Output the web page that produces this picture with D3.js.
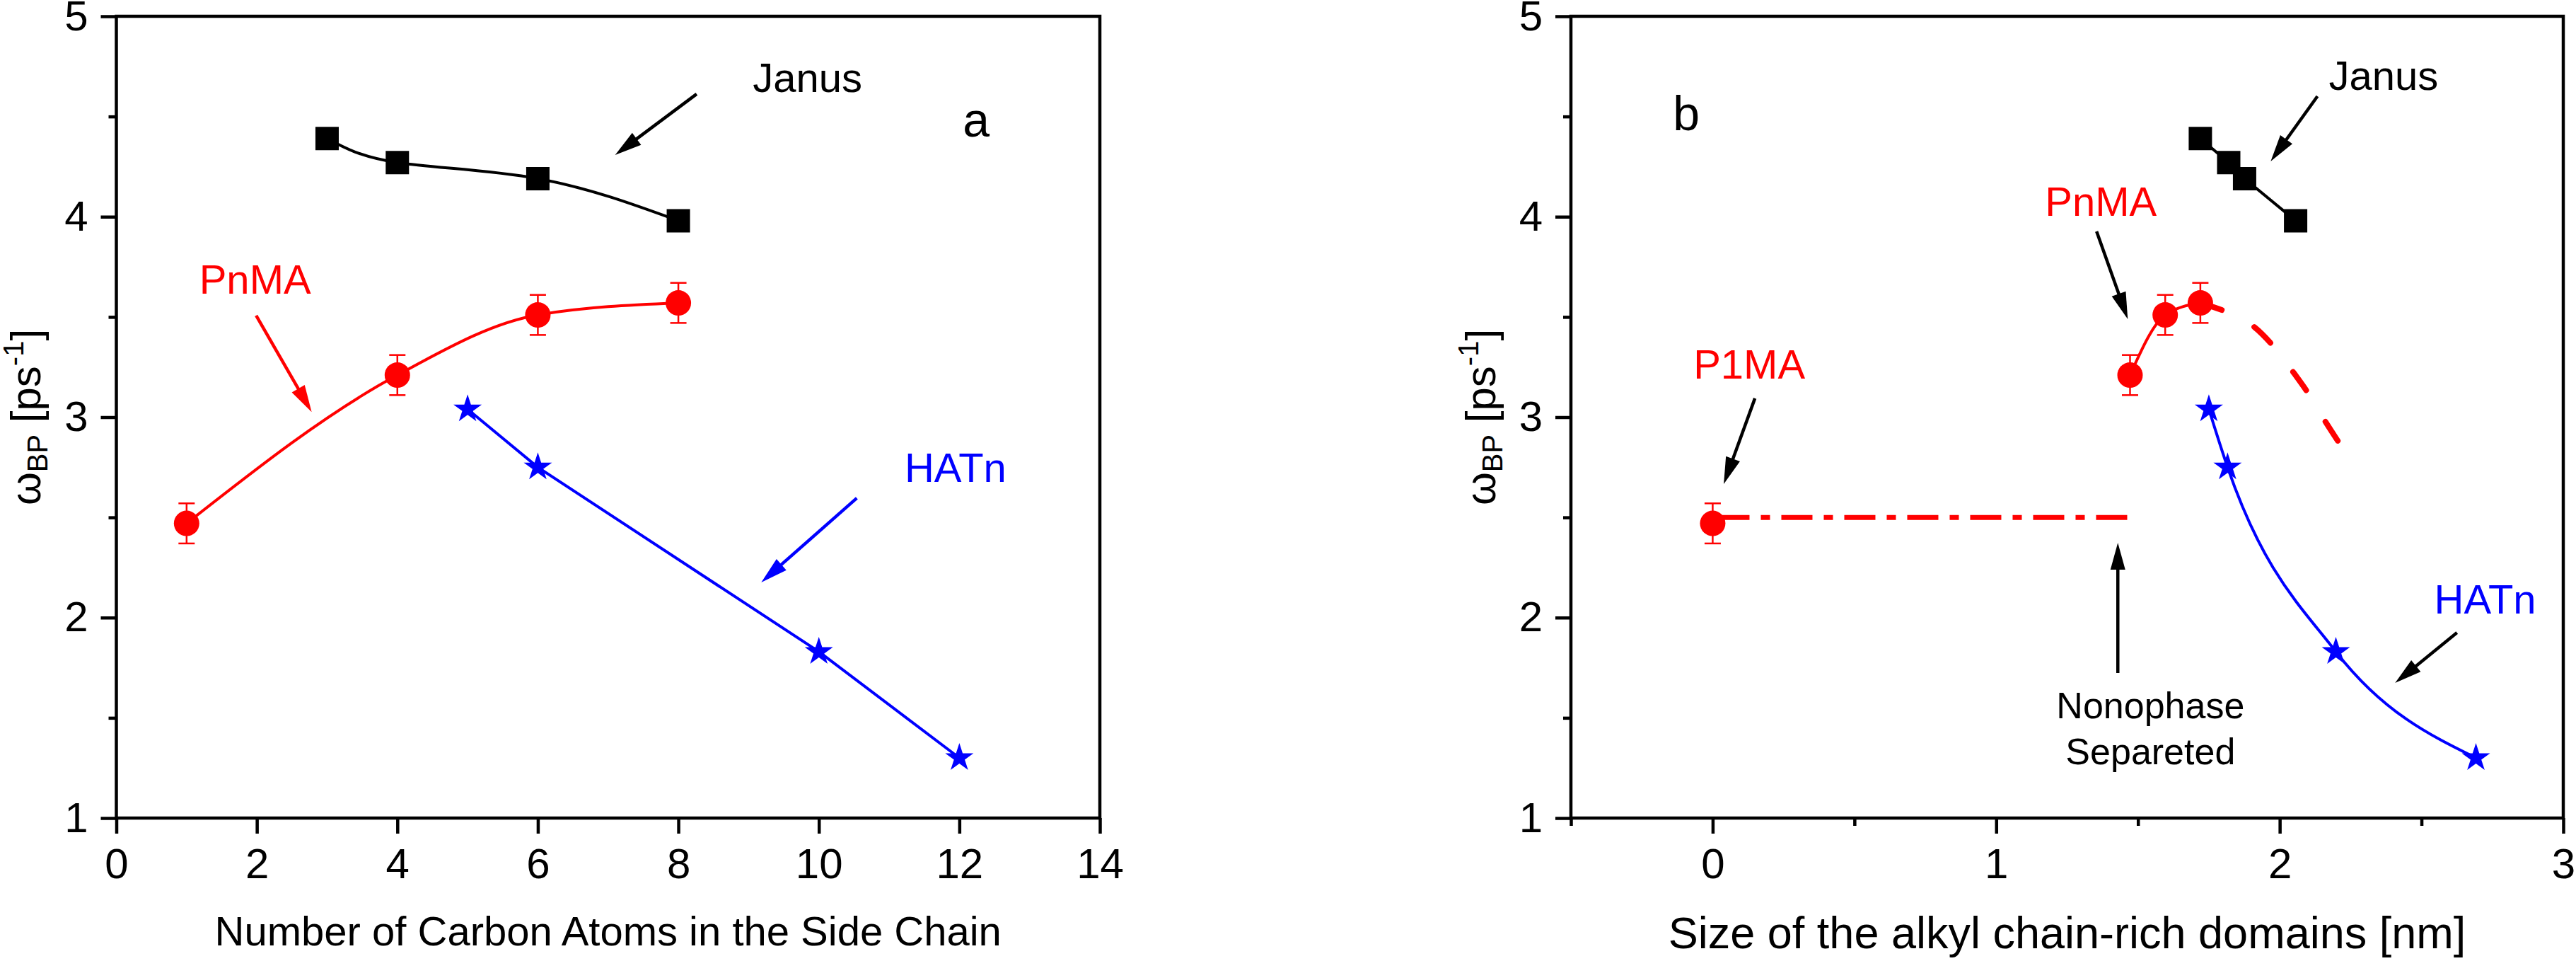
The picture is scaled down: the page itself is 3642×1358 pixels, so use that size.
<!DOCTYPE html>
<html>
<head>
<meta charset="utf-8">
<script src="https://cdn.jsdelivr.net/npm/d3@7"></script>
<style>
  html, body { margin: 0; padding: 0; background: #fff; }
  svg { display: block; }
  text { font-family: "Liberation Sans", Arial, sans-serif; }
</style>
</head>
<body>
<svg id="chart" width="3642" height="1358"></svg>
<script>
// ---------------- DATA ----------------
// Panel a: omega_BP vs number of carbon atoms in the side chain
const carbonJanus = [3, 4, 6, 8];
const omegaJanus  = [4.39, 4.27, 4.19, 3.98];
const carbonPnMA  = [1, 4, 6, 8];
const omegaPnMA   = [2.47, 3.21, 3.51, 3.57];
const errPnMA     = [0.10, 0.10, 0.10, 0.10];
const carbonHATn  = [5, 6, 10, 12];
const omegaHATn   = [3.04, 2.75, 1.83, 1.30];

// Panel b: omega_BP vs size of alkyl chain-rich domains (nm)
const sizeJanus   = [1.72, 1.82, 1.876, 2.056];
const sizeP1MA    = [0];
const omegaP1MA   = [2.47];
const sizePnMA    = [1.472, 1.596, 1.72];
const omegaPnMAb  = [3.21, 3.51, 3.57];
const sizeHATn    = [1.75, 1.816, 2.198, 2.692];
// dashed guide (extrapolated trend of PnMA) and dash-dot "non phase separated" level
const guideX      = [1.72, 1.82, 1.91, 1.98, 2.05, 2.10, 2.16, 2.215];
const guideY      = [3.57, 3.52, 3.45, 3.35, 3.22, 3.12, 2.98, 2.86];
const levelX      = [1.462, 0];
const levelY      = [2.5, 2.5];

// ticks
const yTicks      = [1, 2, 3, 4, 5];
const yMinor      = [1.5, 2.5, 3.5, 4.5];
const xTicksA     = [0, 2, 4, 6, 8, 10, 12, 14];
const xTicksB     = [0, 1, 2, 3];
const xMinorB     = [-0.5, 0.5, 1.5, 2.5];

// ---------------- DRAW ----------------
const svg = d3.select("#chart");
svg.append("rect").attr("width", 3642).attr("height", 1358).attr("fill", "#fff");

const RED = "#ff0000", BLUE = "#0000ff", BLACK = "#000";
const FONT = "'Liberation Sans', Arial, sans-serif";

const plotTop = 23, plotBottom = 1156;
const y = d3.scaleLinear().domain([1, 5]).range([plotBottom, plotTop]);
const xA = d3.scaleLinear().domain([0, 14]).range([164.5, 1555]);
const xB = d3.scaleLinear().domain([-0.5, 3]).range([2221, 3624]);

function frame(x, xTicks, xMinor, yLabelX) {
  const g = svg.append("g");
  const [x0, x1] = x.range();
  const ax = g.append("g").attr("transform", `translate(0,${plotBottom})`)
    .call(d3.axisBottom(x).tickValues(xTicks).tickSizeInner(22).tickSizeOuter(0).tickPadding(20).tickFormat(d3.format("d")));
  ax.select(".domain").remove();
  ax.selectAll("line").attr("stroke-width", 4.5);
  ax.selectAll("text").attr("font-size", 60).attr("font-family", FONT).attr("fill", BLACK);
  if (xMinor.length) {
    const axm = g.append("g").attr("transform", `translate(0,${plotBottom})`)
      .call(d3.axisBottom(x).tickValues(xMinor).tickSizeInner(11).tickSizeOuter(0).tickFormat(""));
    axm.select(".domain").remove();
    axm.selectAll("line").attr("stroke-width", 4.5);
  }
  const ay = g.append("g").attr("transform", `translate(${x0},0)`)
    .call(d3.axisLeft(y).tickValues(yTicks).tickSizeInner(22).tickSizeOuter(0).tickPadding(18).tickFormat(d3.format("d")));
  ay.select(".domain").remove();
  ay.selectAll("line").attr("stroke-width", 4.5);
  ay.selectAll("text").attr("font-size", 60).attr("font-family", FONT).attr("fill", BLACK);
  const aym = g.append("g").attr("transform", `translate(${x0},0)`)
    .call(d3.axisLeft(y).tickValues(yMinor).tickSizeInner(11).tickSizeOuter(0).tickFormat(""));
  aym.select(".domain").remove();
  aym.selectAll("line").attr("stroke-width", 4.5);
  g.append("rect").attr("x", x0).attr("y", plotTop).attr("width", x1 - x0).attr("height", plotBottom - plotTop)
    .attr("fill", "none").attr("stroke", BLACK).attr("stroke-width", 4.5);
  const t = g.append("text").attr("transform", `translate(${yLabelX},${(plotTop + plotBottom) / 2}) rotate(-90)`)
    .attr("text-anchor", "middle").attr("font-size", 60).attr("fill", BLACK);
  t.append("tspan").text("ω");
  t.append("tspan").attr("font-size", 40).attr("dy", 10).text("BP");
  t.append("tspan").attr("font-size", 60).attr("dy", -10).text(" [ps");
  t.append("tspan").attr("font-size", 40).attr("dy", -24).text("-1");
  t.append("tspan").attr("font-size", 60).attr("dy", 24).text("]");
}

function seriesLine(x, xs, ys, color, curve, extra) {
  const pts = xs.map((d, i) => [d, ys[i]]);
  const p = svg.append("path").datum(pts)
    .attr("d", d3.line().x(d => x(d[0])).y(d => y(d[1])).curve(curve))
    .attr("fill", "none").attr("stroke", color).attr("stroke-width", 4);
  if (extra) extra(p);
  return p;
}
function errorBars(x, xs, ys, es, color) {
  xs.forEach((d, i) => {
    const cx = x(d), yt = y(ys[i] + es[i]), yb = y(ys[i] - es[i]);
    svg.append("line").attr("x1", cx).attr("x2", cx).attr("y1", yt).attr("y2", yb).attr("stroke", color).attr("stroke-width", 2.5);
    [yt, yb].forEach(yy => svg.append("line").attr("x1", cx - 11.5).attr("x2", cx + 11.5).attr("y1", yy).attr("y2", yy)
      .attr("stroke", color).attr("stroke-width", 2.5));
  });
}
function markers(x, xs, ys, type, size, color) {
  xs.forEach((d, i) => {
    svg.append("path").attr("d", d3.symbol(type, size)())
      .attr("transform", `translate(${x(d)},${y(ys[i])})`).attr("fill", color);
  });
}
function label(x, xv, yv, txt, color, size, anchor) {
  svg.append("text").attr("x", x(xv)).attr("y", y(yv)).attr("font-size", size || 58)
    .attr("fill", color).attr("text-anchor", anchor || "start").text(txt);
}
function arrow(x, x1v, y1v, x2v, y2v, color) {
  const x1 = x(x1v), y1 = y(y1v), x2 = x(x2v), y2 = y(y2v);
  const dx = x2 - x1, dy = y2 - y1, len = Math.hypot(dx, dy);
  const ux = dx / len, uy = dy / len, nx = -uy, ny = ux;
  const L = 38, Wd = 10.5;
  const bx = x2 - ux * L, by = y2 - uy * L;
  svg.append("line").attr("x1", x1).attr("y1", y1).attr("x2", bx + ux * 4).attr("y2", by + uy * 4)
    .attr("stroke", color).attr("stroke-width", 4.5);
  svg.append("path").attr("d", `M${x2},${y2}L${bx + nx * Wd},${by + ny * Wd}L${bx - nx * Wd},${by - ny * Wd}Z`)
    .attr("fill", color);
}

// ---------- Panel a ----------
frame(xA, xTicksA, [], 57);
seriesLine(xA, carbonJanus, omegaJanus, BLACK, d3.curveNatural);
seriesLine(xA, carbonPnMA, omegaPnMA, RED, d3.curveMonotoneX);
seriesLine(xA, carbonHATn, omegaHATn, BLUE, d3.curveLinear);
errorBars(xA, carbonPnMA, omegaPnMA, errPnMA, RED);
markers(xA, carbonJanus, omegaJanus, d3.symbolSquare, 1089, BLACK);
markers(xA, carbonPnMA, omegaPnMA, d3.symbolCircle, Math.PI * 18 * 18, RED);
markers(xA, carbonHATn, omegaHATn, d3.symbolStar, 495, BLUE);

label(xA, 9.06, 4.622, "Janus", BLACK);
arrow(xA, 8.26, 4.612, 7.10, 4.308, BLACK);
label(xA, 12.05, 4.40, "a", BLACK, 68);
label(xA, 1.18, 3.616, "PnMA", RED);
arrow(xA, 1.99, 3.507, 2.78, 3.026, RED);
label(xA, 11.22, 2.677, "HATn", BLUE);
arrow(xA, 10.54, 2.596, 9.18, 2.176, BLUE);

svg.append("text").attr("x", (xA.range()[0] + xA.range()[1]) / 2).attr("y", 1336)
  .attr("text-anchor", "middle").attr("font-size", 58).attr("fill", BLACK)
  .text("Number of Carbon Atoms in the Side Chain");

// ---------- Panel b ----------
frame(xB, xTicksB, xMinorB, 2113.5);
seriesLine(xB, levelX, levelY, RED, d3.curveLinear, p => p.attr("stroke-width", 7).attr("stroke-dasharray", "44,16,13,16"));
seriesLine(xB, guideX, guideY, RED, d3.curveMonotoneX, p => p.attr("stroke-width", 8).attr("stroke-linecap", "round").attr("stroke-dasharray", "32,52"));
seriesLine(xB, sizeJanus, omegaJanus, BLACK, d3.curveLinear);
seriesLine(xB, sizePnMA, omegaPnMAb, RED, d3.curveMonotoneX);
seriesLine(xB, sizeHATn, omegaHATn, BLUE, d3.curveMonotoneX);
errorBars(xB, sizeP1MA, omegaP1MA, [0.1], RED);
errorBars(xB, sizePnMA, omegaPnMAb, [0.1, 0.1, 0.1], RED);
markers(xB, sizeJanus, omegaJanus, d3.symbolSquare, 1089, BLACK);
markers(xB, sizeP1MA, omegaP1MA, d3.symbolCircle, Math.PI * 18 * 18, RED);
markers(xB, sizePnMA, omegaPnMAb, d3.symbolCircle, Math.PI * 18 * 18, RED);
markers(xB, sizeHATn, omegaHATn, d3.symbolStar, 495, BLUE);

label(xB, -0.14, 4.432, "b", BLACK, 68);
label(xB, -0.068, 3.192, "P1MA", RED);
arrow(xB, 0.149, 3.094, 0.039, 2.666, BLACK);
label(xB, 1.172, 4.004, "PnMA", RED);
arrow(xB, 1.354, 3.927, 1.464, 3.489, BLACK);
label(xB, 2.173, 4.633, "Janus", BLACK);
arrow(xB, 2.133, 4.601, 1.968, 4.276, BLACK);
label(xB, 2.545, 2.02, "HATn", BLUE);
arrow(xB, 2.625, 1.925, 2.407, 1.674, BLACK);
arrow(xB, 1.429, 1.724, 1.429, 2.373, BLACK);
label(xB, 1.544, 1.498, "Nonophase", BLACK, 52, "middle");
label(xB, 1.544, 1.268, "Separeted", BLACK, 52, "middle");

svg.append("text").attr("x", (xB.range()[0] + xB.range()[1]) / 2).attr("y", 1340)
  .attr("text-anchor", "middle").attr("font-size", 63).attr("fill", BLACK)
  .text("Size of the alkyl chain-rich domains [nm]");
</script>
</body>
</html>
